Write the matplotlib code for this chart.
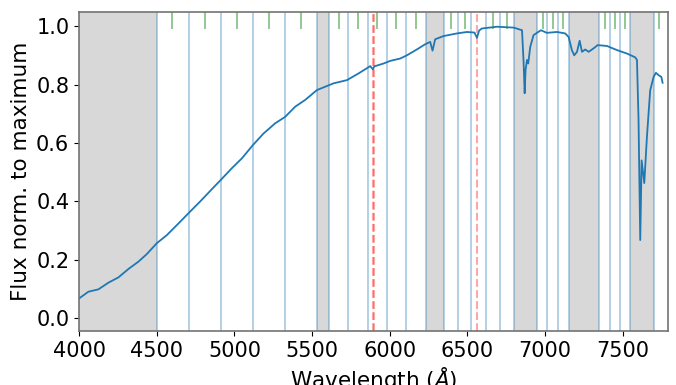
import numpy as np
import matplotlib
matplotlib.use("Agg")
from matplotlib import pyplot as plt

# spectrum (wavelength in Angstrom, flux / max)
wave = [4000, 4060, 4124, 4189, 4253, 4318, 4382, 4436, 4500, 4565, 4640, 4708,
        4779, 4854, 4912, 4983, 5048, 5118, 5187, 5262, 5326, 5391, 5455, 5531,
        5638, 5724, 5799, 5874, 5891, 5900, 5960, 6003, 6067, 6110, 6180, 6228,
        6260, 6275, 6292, 6346, 6432, 6496, 6545, 6561, 6575, 6593, 6690, 6797,
        6851, 6861, 6868, 6874, 6883, 6891, 6904, 6925, 6947, 6973, 7011, 7076,
        7129, 7151, 7172, 7187, 7205, 7222, 7237, 7258, 7280, 7312, 7338, 7398,
        7462, 7527, 7580, 7591, 7601, 7612, 7621, 7638, 7655, 7676, 7698, 7713,
        7730, 7748, 7756]
flux = [0.067, 0.090, 0.098, 0.121, 0.139, 0.168, 0.193, 0.219, 0.256, 0.284, 0.324, 0.361,
        0.399, 0.441, 0.473, 0.513, 0.547, 0.592, 0.632, 0.667, 0.689, 0.724, 0.747, 0.781,
        0.804, 0.815, 0.838, 0.863, 0.852, 0.862, 0.872, 0.881, 0.889, 0.900, 0.922, 0.938,
        0.946, 0.916, 0.955, 0.966, 0.975, 0.980, 0.978, 0.960, 0.985, 0.992, 0.998, 0.995,
        0.986, 0.880, 0.770, 0.850, 0.884, 0.872, 0.929, 0.969, 0.977, 0.986, 0.977, 0.980,
        0.975, 0.963, 0.918, 0.900, 0.912, 0.950, 0.912, 0.920, 0.912, 0.924, 0.935, 0.932,
        0.918, 0.906, 0.893, 0.884, 0.680, 0.267, 0.540, 0.462, 0.620, 0.780, 0.826, 0.840,
        0.832, 0.826, 0.806]

# bin edges (blue), masked bins (gray), bin centres (green), lines (red)
bin_edges = [4500, 4708, 4914, 5120, 5326, 5532, 5610, 5734, 5859, 5981, 6104, 6230,
             6346, 6438, 6524, 6619, 6711, 6801, 6947, 7015, 7080, 7153, 7346, 7415,
             7479, 7548, 7703]
masked = [(4000, 4500), (5532, 5610), (6230, 6346), (6801, 6947), (7153, 7346), (7548, 7703)]
centres = [4601, 4809, 5015, 5223, 5428, 5672, 5795, 5917, 6041, 6168, 6393, 6485,
           6664, 6754, 6983, 7048, 7115, 7382, 7447, 7514, 7730]
lines = [5890, 5896, 6563]

plt.rcParams['font.size'] = 15

fig = plt.figure(figsize=(6.76, 3.85), dpi=100)
ax = fig.add_axes([0.117, 0.140, 0.871, 0.830])

for lo, hi in masked:
    ax.axvspan(lo, hi, color='gray', alpha=0.3, lw=0)
for e in bin_edges:
    ax.axvline(e, color='C0', alpha=0.4, lw=1.2)
ax.vlines(centres, 0.99, 1.06, color='green', alpha=0.5, lw=1.2)
for l in lines:
    ax.axvline(l, color='red', alpha=0.35, lw=1.5, ls='--')

ax.plot(wave, flux, color='C0', lw=1.3)

ax.set_xlim(4000, 7790)
ax.set_ylim(-0.045, 1.05)
ax.set_xticks([4000, 4500, 5000, 5500, 6000, 6500, 7000, 7500])
ax.set_yticks([0.0, 0.2, 0.4, 0.6, 0.8, 1.0])
ax.set_xlabel(r'Wavelength ($\AA$)', fontsize=15.5, labelpad=3)
ax.set_ylabel('Flux norm. to maximum', fontsize=15.5)
for s in ax.spines.values():
    s.set_color('0.45')
    s.set_linewidth(1.2)

fig.savefig('out.png', dpi=100)
